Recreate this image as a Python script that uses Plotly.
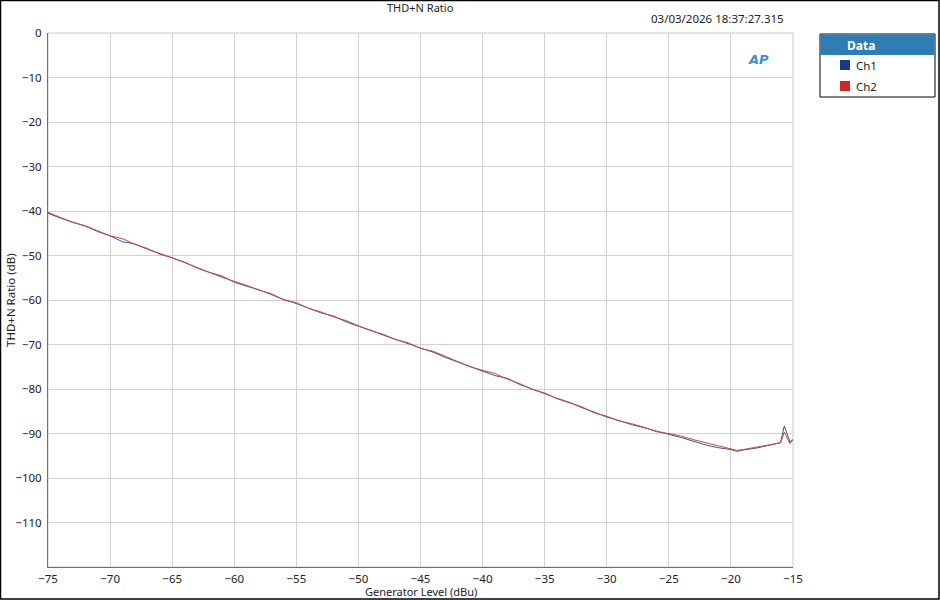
import plotly.graph_objects as go

# generator level (dBu)
level = [-75, -74, -73, -72, -71, -70, -69, -68, -67, -66, -65, -64, -63, -62, -61,
         -60, -59, -58, -57, -56, -55, -54, -53, -52, -51, -50, -49, -48, -47, -46,
         -45, -44, -43, -42, -41, -40, -39, -38, -37, -36, -35, -34, -33, -32, -31,
         -30, -29, -28, -27, -26, -25, -24, -23, -22, -21, -20, -19.5, -19, -18, -17,
         -16.5, -16, -15.7, -15.25, -15]

# THD+N ratio (dB)
ch1 = [-40.5, -41.6, -42.5, -43.4, -44.6, -45.6, -46.9, -47.4, -48.6, -49.6, -50.6, -51.5, -52.8, -53.8, -54.6,
       -56.0, -56.9, -57.7, -58.8, -59.9, -60.8, -61.8, -62.9, -63.6, -64.9, -65.9, -66.8, -67.9, -68.8, -69.8,
       -70.8, -71.7, -72.9, -73.9, -74.9, -76.0, -77.0, -77.6, -79.0, -80.0, -81.1, -82.1, -83.0, -84.2, -85.2,
       -86.3, -87.1, -88.0, -88.7, -89.5, -90.2, -90.9, -91.8, -92.6, -93.2, -93.6, -94.0, -93.7, -93.3, -92.8,
       -92.4, -92.0, -88.3, -91.9, -91.4]
ch2 = [-40.3, -41.5, -42.6, -43.3, -44.4, -45.6, -46.2, -47.5, -48.4, -49.7, -50.5, -51.6, -52.6, -53.7, -54.9,
       -55.8, -56.7, -57.8, -58.6, -60.0, -60.6, -61.9, -62.7, -63.8, -64.6, -65.8, -66.9, -67.7, -68.9, -69.6,
       -70.9, -71.5, -72.7, -73.8, -75.0, -75.8, -76.5, -77.8, -78.8, -80.1, -80.9, -82.2, -83.1, -84.0, -85.4,
       -86.1, -87.2, -87.8, -88.6, -89.6, -90.0, -90.6, -91.4, -92.1, -92.9, -93.5, -93.8, -93.6, -93.1, -92.7,
       -92.3, -92.1, -89.7, -92.3, -91.3]

names = ["Ch1", "Ch2"]
line_colors = ["#3d4f96", "#c44a4a"]
swatch_colors = ["#183a84", "#cc2a26"]

xticks = list(range(-75, -14, 5))
yticks = list(range(0, -111, -10))

font = "Noto Sans"

fig = go.Figure()
for name, ys, col in zip(names, [ch1, ch2], line_colors):
    fig.add_trace(go.Scatter(x=level, y=ys, name=name, mode="lines",
                             line=dict(color=col, width=1)))

# plot area pixels: left 48, right 793, top 33, bottom 567
W, H = 745, 534
def px(x):
    return (x - 48) / W
def py(y):
    return (567 - y) / H

shapes = [
    dict(type="rect", xref="paper", yref="paper", x0=0, x1=1, y0=0, y1=1,
         line=dict(color="#c8c8c8", width=1), layer="below"),
    # outer border
    dict(type="rect", xref="paper", yref="paper", x0=px(0.5), x1=px(939), y0=py(599), y1=py(0.5),
         line=dict(color="#000000", width=1.5)),
    # legend box
    dict(type="rect", xref="paper", yref="paper", x0=px(820), x1=px(935), y0=py(97), y1=py(34),
         line=dict(color="#000000", width=1), fillcolor="white"),
    dict(type="rect", xref="paper", yref="paper", x0=px(820.5), x1=px(934.5), y0=py(55), y1=py(34.5),
         line=dict(width=0), fillcolor="#2f7db5"),
]
annotations = [
    dict(text="THD+N Ratio", xref="paper", yref="paper", x=0.5, y=py(7), showarrow=False,
         font=dict(size=11, color="#222"), yanchor="middle"),
    dict(text="03/03/2026 18:37:27.315", xref="paper", yref="paper", x=px(786), y=py(19),
         xanchor="right", yanchor="middle", showarrow=False, font=dict(size=11.5, color="#222")),
    dict(text="<b><i>AP</i></b>", xref="paper", yref="paper", x=px(771), y=py(50),
         showarrow=False, font=dict(size=13, color="#3a8fd0", family="DejaVu Sans")),
    dict(text="<b>Data</b>", xref="paper", yref="paper", x=px(877), y=py(45),
         showarrow=False, font=dict(size=12, color="white"), yanchor="middle"),
    dict(text="Generator Level (dBu)", xref="paper", yref="paper", x=0.5, y=py(591),
         showarrow=False, font=dict(size=11, color="#222"), yanchor="middle"),
    dict(text="THD+N Ratio (dB)", xref="paper", yref="paper", x=px(10), y=py(300),
         showarrow=False, textangle=-90, font=dict(size=11.5, color="#222"),
         xanchor="center", yanchor="middle"),
]
for i, (name, col) in enumerate(zip(names, swatch_colors)):
    yc = 65 + 21 * i
    shapes.append(dict(type="rect", xref="paper", yref="paper", x0=px(840), x1=px(850),
                       y0=py(yc + 5), y1=py(yc - 5), line=dict(width=0), fillcolor=col))
    annotations.append(dict(text=name, xref="paper", yref="paper", x=px(854), y=py(yc),
                            xanchor="left", yanchor="middle", showarrow=False,
                            font=dict(size=11.5, color="#222")))

fig.update_layout(
    width=940, height=600,
    margin=dict(l=48, r=147, t=33, b=33),
    paper_bgcolor="white", plot_bgcolor="white",
    font=dict(family=font, size=11.5, color="#222"),
    showlegend=False,
    shapes=shapes, annotations=annotations,
)
fig.update_xaxes(range=[-75, -15], tickvals=xticks, showgrid=True, gridcolor="#d2d2d2",
                 showline=True, linecolor="#707070", linewidth=1, ticks="", zeroline=False,
                 automargin=False, ticklabelstandoff=1)
fig.update_yaxes(range=[-120, 0], tickvals=yticks, showgrid=True, gridcolor="#d2d2d2",
                 showline=True, linecolor="#707070", linewidth=1, ticks="", zeroline=False,
                 automargin=False, ticklabelstandoff=3)

# drop the browser's default body margin so the 940x600 figure fills the window
fig.write_html("out.html", config={"displayModeBar": False},
               post_script="document.body.style.margin='0';")
